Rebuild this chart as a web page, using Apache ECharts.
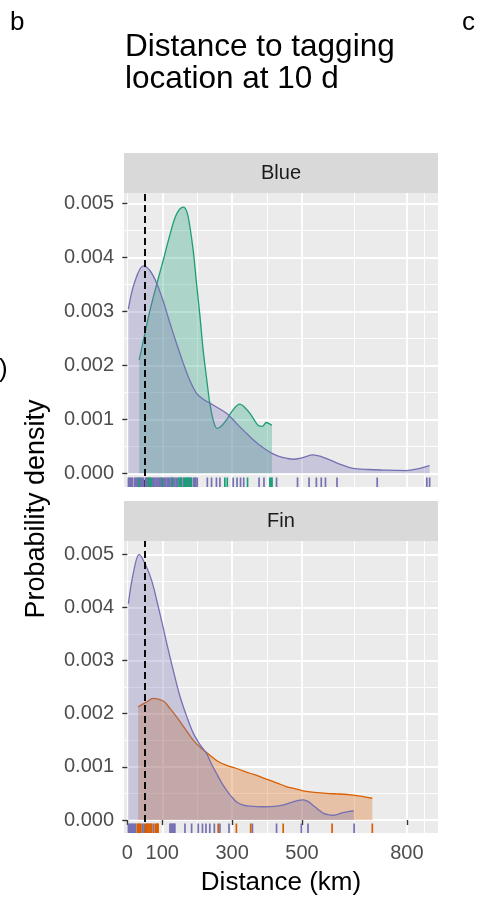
<!DOCTYPE html>
<html><head><meta charset="utf-8">
<script src="https://cdn.jsdelivr.net/npm/echarts@6/dist/echarts.min.js"></script>
<style>html,body{margin:0;padding:0;background:#fff}#c{width:481px;height:899px}</style>
</head><body><div id="c"></div>
<script>
// ---------- data (densities in units of 1e-3 per km) ----------
const xTicks = [0, 100, 300, 500, 800];
const xMajorGrid = [100, 300, 500, 800];
const xMinorGrid = [0, 200, 400, 650, 850];
const yTicks = [0, 0.001, 0.002, 0.003, 0.004, 0.005];
const yMinor = [0.0005, 0.0015, 0.0025, 0.0035, 0.0045];
const panels = ['Blue', 'Fin'];
const refLineKm = 50;

// Blue panel, purple group
const bluePurpleX = [3, 20, 46, 65, 84, 103, 122, 141, 160, 179, 198, 217, 236, 260, 284, 303, 322, 341, 360, 379, 398, 417, 436, 455, 474, 502, 531, 555, 579, 612, 646, 690, 731, 765, 798, 830, 865];
const bluePurpleY = [3.04, 3.52, 3.84, 3.75, 3.52, 3.18, 2.78, 2.40, 2.04, 1.72, 1.48, 1.37, 1.30, 1.21, 1.11, 0.99, 0.86, 0.74, 0.62, 0.52, 0.43, 0.36, 0.31, 0.28, 0.26, 0.29, 0.34, 0.31, 0.25, 0.16, 0.09, 0.07, 0.06, 0.055, 0.05, 0.08, 0.14];
// Blue panel, green group
const blueGreenX = [34, 50, 65, 84, 103, 122, 141, 160, 170, 179, 189, 198, 208, 217, 227, 236, 246, 257, 270, 284, 303, 322, 336, 351, 362, 374, 386, 398, 406, 414];
const blueGreenY = [2.10, 2.58, 3.02, 3.50, 3.95, 4.42, 4.80, 4.93, 4.85, 4.57, 4.10, 3.52, 2.90, 2.28, 1.75, 1.30, 0.98, 0.83, 0.88, 0.99, 1.18, 1.28, 1.22, 1.11, 1.00, 0.89, 0.87, 0.94, 0.92, 0.89];
// Fin panel, purple group
const finPurpleX = [3, 17, 34, 55, 70, 84, 98, 113, 132, 151, 170, 189, 208, 227, 241, 255, 270, 284, 298, 313, 332, 351, 389, 427, 450, 474, 489, 503, 517, 531, 546, 560, 574, 589, 603, 617, 632, 648];
const finPurpleY = [4.07, 4.64, 5.00, 4.76, 4.50, 4.14, 3.75, 3.32, 2.80, 2.32, 1.95, 1.63, 1.42, 1.25, 1.05, 0.88, 0.70, 0.56, 0.44, 0.34, 0.28, 0.26, 0.25, 0.26, 0.29, 0.34, 0.37, 0.38, 0.35, 0.28, 0.20, 0.13, 0.10, 0.09, 0.11, 0.14, 0.16, 0.17];
// Fin panel, orange group
const finOrangeX = [31, 55, 74, 103, 122, 141, 165, 189, 212, 236, 260, 284, 317, 351, 374, 398, 427, 455, 479, 503, 536, 570, 608, 646, 675, 701];
const finOrangeY = [2.13, 2.22, 2.29, 2.24, 2.10, 1.94, 1.72, 1.50, 1.35, 1.22, 1.10, 1.03, 0.96, 0.88, 0.83, 0.77, 0.70, 0.63, 0.59, 0.55, 0.52, 0.50, 0.49, 0.47, 0.44, 0.41];

// rug observations (km)
const blueRugPurple = [3, 6, 9, 12, 15, 21, 24, 27, 30, 33, 37, 40, 43, 46, 52, 55, 58, 62, 65, 72, 75, 78, 82, 85, 88, 92, 95, 98, 104, 107, 110, 114, 118, 121, 125, 129, 132, 136, 140, 144, 155, 160, 172, 176, 190, 193, 196, 200, 229, 241, 255, 265, 303, 314, 324, 333, 377, 391, 427, 487, 520, 541, 555, 567, 600, 715, 857, 865];
const blueRugGreen = [34, 60, 66, 68, 100, 128, 148, 151, 154, 163, 166, 169, 172, 178, 181, 184, 279, 286, 344, 408, 411, 414];
const finRugPurple = [3, 6, 9, 12, 15, 18, 21, 24, 44, 48, 58, 75, 122, 125, 128, 131, 134, 136, 165, 184, 203, 215, 225, 236, 249, 265, 291, 358, 427, 498, 517, 649];
const finRugOrange = [29, 31, 34, 37, 39, 52, 55, 58, 62, 65, 68, 70, 80, 84, 86, 88, 260, 312, 353, 446, 586, 701];

// ---------- styling ----------
const FONT = 'Liberation Sans, Arial, Helvetica, sans-serif';
const PURPLE = '#7570B3', GREEN = '#1B9E77', ORANGE = '#D95F02';
const PANEL_BG = '#EBEBEB', STRIP_BG = '#D9D9D9';
const X_MIN = -9.5, X_MAX = 889;
const gridsPx = [
  {left: 124, top: 193, width: 314, height: 294, yMin: -0.000254, yMax: 0.00519},
  {left: 124, top: 541, width: 314, height: 292, yMin: -0.000244, yMax: 0.00525}
];
const stripH = 40;

function pairs(xs, ys) { return xs.map((x, i) => [x, ys[i] / 1000]); }

const grid = [], xAxis = [], yAxis = [], series = [];
const XPER = 3; // x axes per grid: ticks/labels, major grid, minor grid
gridsPx.forEach((g, gi) => {
  grid.push({left: g.left, top: g.top, width: g.width, height: g.height, show: true,
    backgroundColor: PANEL_BG, borderWidth: 0, containLabel: false});
  const isBottom = gi === gridsPx.length - 1;
  xAxis.push({type: 'value', gridIndex: gi, position: 'bottom', min: X_MIN, max: X_MAX,
    axisLine: {show: false},
    axisTick: {show: isBottom, customValues: xTicks, length: 5, lineStyle: {color: '#333', width: 1.4}},
    axisLabel: {show: isBottom, customValues: xTicks, margin: 10, color: '#4D4D4D', fontSize: 20, fontFamily: FONT},
    splitLine: {show: false}
  });
  xAxis.push({type: 'value', gridIndex: gi, position: 'top', min: X_MIN, max: X_MAX,
    axisLine: {show: false}, axisTick: {show: false, customValues: xMajorGrid},
    axisLabel: {show: false, customValues: xMajorGrid},
    splitLine: {show: true, lineStyle: {color: '#fff', width: 1.8}}
  });
  xAxis.push({type: 'value', gridIndex: gi, position: 'top', min: X_MIN, max: X_MAX,
    axisLine: {show: false}, axisTick: {show: false, customValues: xMinorGrid},
    axisLabel: {show: false, customValues: xMinorGrid},
    splitLine: {show: true, lineStyle: {color: '#fff', width: 0.9}}
  });
  yAxis.push({type: 'value', gridIndex: gi, position: 'left', min: g.yMin, max: g.yMax,
    axisLine: {show: false},
    axisTick: {show: true, customValues: yTicks, length: 5, lineStyle: {color: '#333', width: 1.4}},
    axisLabel: {show: true, customValues: yTicks, margin: 10, color: '#4D4D4D', fontSize: 20, fontFamily: FONT,
      formatter: v => v.toFixed(3)},
    splitLine: {show: true, lineStyle: {color: '#fff', width: 1.8}}
  });
  yAxis.push({type: 'value', gridIndex: gi, position: 'right', min: g.yMin, max: g.yMax,
    axisLine: {show: false}, axisTick: {show: false, customValues: yMinor},
    axisLabel: {show: false, customValues: yMinor},
    splitLine: {show: true, lineStyle: {color: '#fff', width: 0.9}}
  });
});

function densitySeries(gi, xs, ys, color, z) {
  return {type: 'line', xAxisIndex: gi * XPER, yAxisIndex: gi * 2, data: pairs(xs, ys),
    smooth: 0.35, showSymbol: false, symbol: 'none', z: z, silent: true,
    lineStyle: {color: color, width: 1.3},
    areaStyle: {color: color, opacity: 0.3, origin: 0}};
}
function rugSeries(gi, vals, color, z) {
  const yMin = gridsPx[gi].yMin;
  return {type: 'custom', xAxisIndex: gi * XPER, yAxisIndex: gi * 2, z: z, silent: true,
    data: vals.map(v => [v, yMin]),
    renderItem: (params, api) => {
      const p = api.coord([api.value(0), yMin]);
      return {type: 'line', shape: {x1: p[0], y1: p[1], x2: p[0], y2: p[1] - 9.5},
        style: {stroke: color, lineWidth: 1.7}};
    }};
}
function refLine(gi) {
  return {type: 'line', xAxisIndex: gi * XPER, yAxisIndex: gi * 2, data: [], z: 20, silent: true,
    markLine: {silent: true, symbol: ['none', 'none'], label: {show: false},
      lineStyle: {color: '#000', type: [7, 4], width: 1.9},
      data: [{xAxis: refLineKm}]}};
}

// Dark2 group order: green / orange first, purple drawn on top
series.push(densitySeries(0, blueGreenX, blueGreenY, GREEN, 3));
series.push(densitySeries(0, bluePurpleX, bluePurpleY, PURPLE, 4));
series.push(rugSeries(0, blueRugPurple, PURPLE, 5));
series.push(rugSeries(0, blueRugGreen, GREEN, 6));
series.push(refLine(0));
series.push(densitySeries(1, finOrangeX, finOrangeY, ORANGE, 3));
series.push(densitySeries(1, finPurpleX, finPurpleY, PURPLE, 4));
series.push(rugSeries(1, finRugPurple, PURPLE, 5));
series.push(rugSeries(1, finRugOrange, ORANGE, 6));
series.push(refLine(1));

const graphic = [];
gridsPx.forEach((g, gi) => {
  graphic.push({type: 'rect', left: g.left, top: g.top - stripH, shape: {width: g.width, height: stripH},
    style: {fill: STRIP_BG}, silent: true});
  graphic.push({type: 'text', x: g.left + g.width / 2, y: g.top - stripH / 2,
    style: {text: panels[gi], fill: '#1A1A1A', font: '20px ' + FONT, textAlign: 'center', textVerticalAlign: 'middle'}});
});
graphic.push({type: 'text', x: 125, y: 47, style: {text: 'Distance to tagging', fill: '#000', font: '31.5px ' + FONT, textAlign: 'left', textVerticalAlign: 'middle'}});
graphic.push({type: 'text', x: 125, y: 79, style: {text: 'location at 10 d', fill: '#000', font: '31.5px ' + FONT, textAlign: 'left', textVerticalAlign: 'middle'}});
graphic.push({type: 'text', x: 10, y: 23, style: {text: 'b', fill: '#000', font: '26px ' + FONT, textAlign: 'left', textVerticalAlign: 'middle'}});
graphic.push({type: 'text', x: 462, y: 23, style: {text: 'c', fill: '#000', font: '26px ' + FONT, textAlign: 'left', textVerticalAlign: 'middle'}});
graphic.push({type: 'text', x: -1, y: 370, style: {text: ')', fill: '#000', font: '26px ' + FONT, textAlign: 'left', textVerticalAlign: 'middle'}});
graphic.push({type: 'text', x: 281, y: 883, style: {text: 'Distance (km)', fill: '#000', font: '26px ' + FONT, textAlign: 'center', textVerticalAlign: 'middle'}});
graphic.push({type: 'text', x: 37, y: 509, rotation: Math.PI / 2, style: {text: 'Probability density', fill: '#000', font: '27px ' + FONT, textAlign: 'center', textVerticalAlign: 'middle'}});

const chart = echarts.init(document.getElementById('c'), null, {renderer: 'canvas'});
chart.setOption({backgroundColor: '#fff', animation: false, grid, xAxis, yAxis, series, graphic});
</script>
</body></html>
